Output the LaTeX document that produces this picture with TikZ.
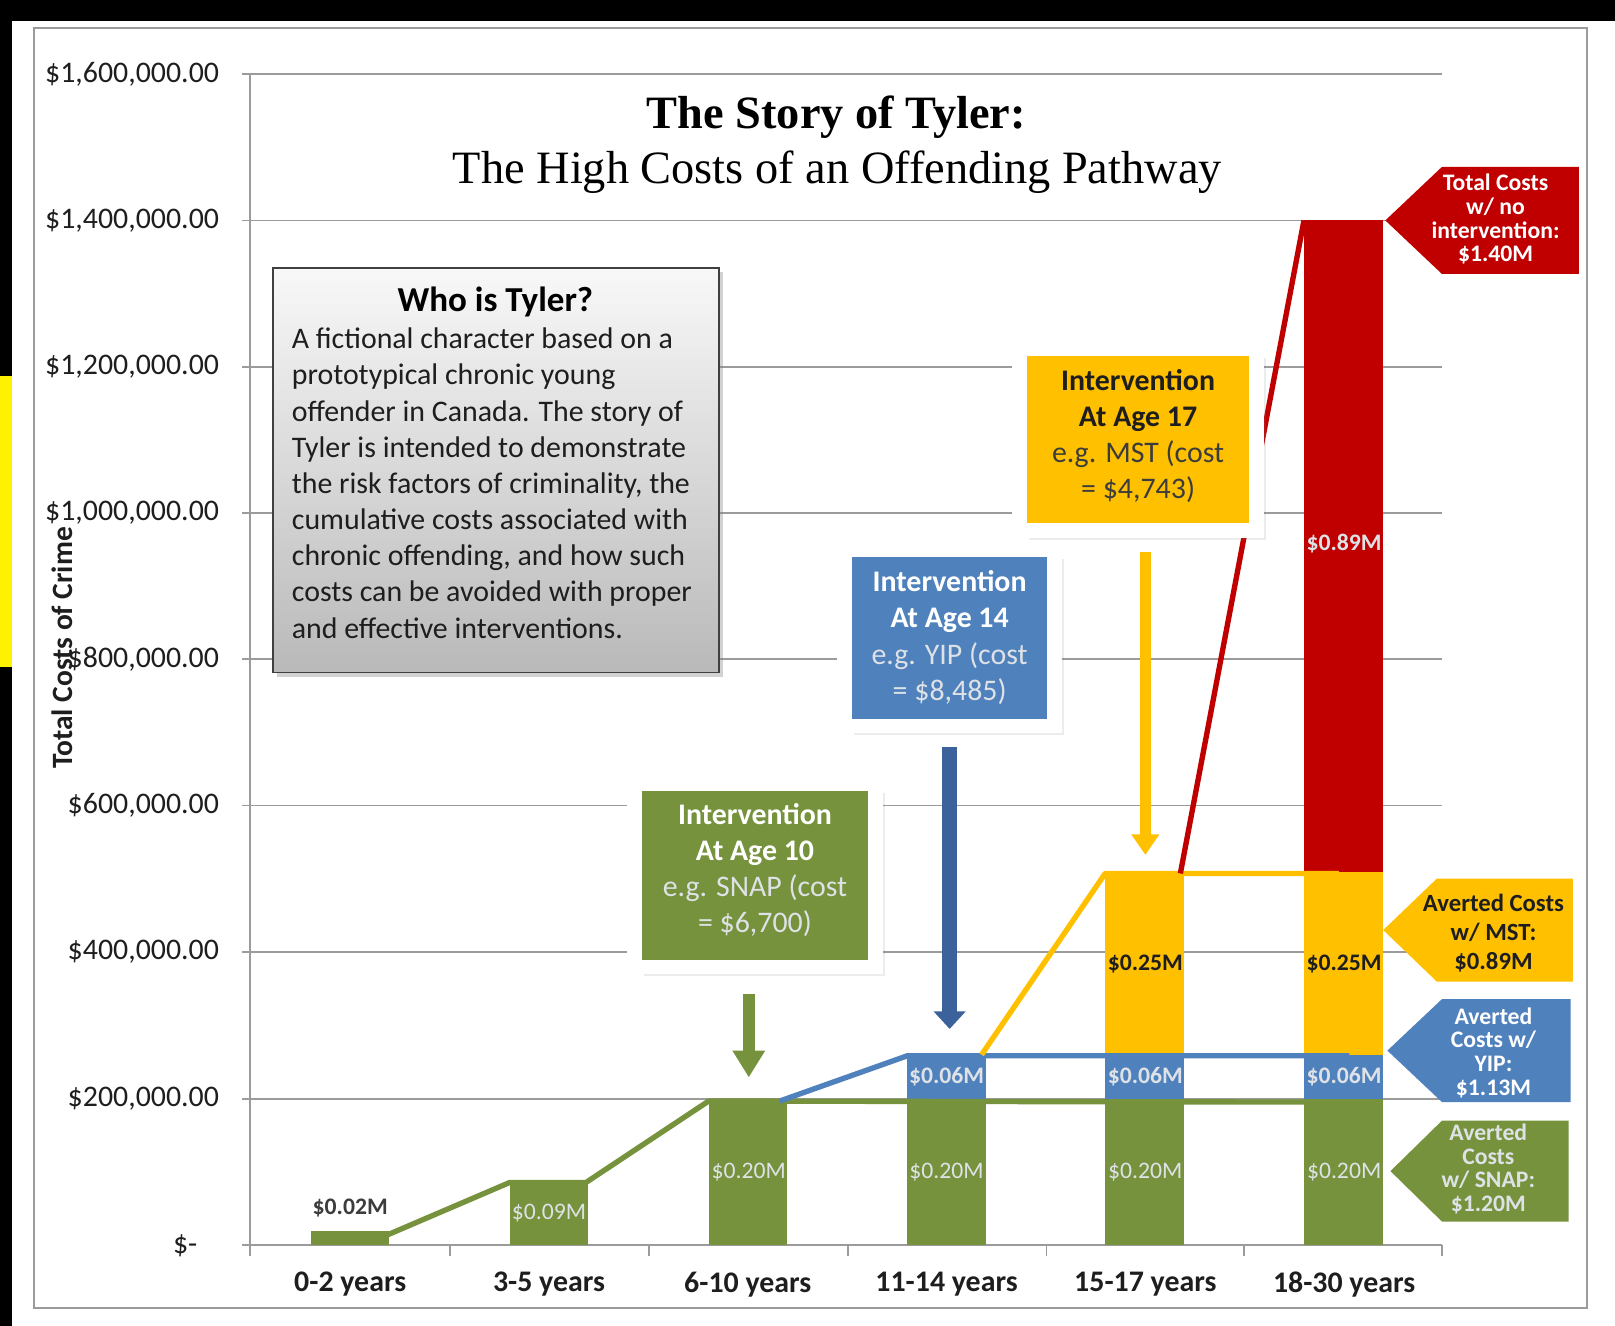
\documentclass[tikz,border=0pt]{standalone}
\usepackage{fontspec}
\setmainfont{Carlito}
\newfontfamily\titlefont{Liberation Serif}
\usetikzlibrary{shadows,arrows.meta}
\definecolor{cgreen}{RGB}{118,146,60}
\definecolor{cblue}{RGB}{79,129,189}
\definecolor{cdblue}{RGB}{60,98,156}
\definecolor{cyellow}{RGB}{255,192,0}
\definecolor{cred}{RGB}{192,0,0}
\definecolor{cgrid}{RGB}{155,155,155}
\definecolor{ctext}{RGB}{30,30,30}
\definecolor{cframe}{RGB}{64,64,64}
\definecolor{clight}{RGB}{222,226,230}
\definecolor{cdark}{RGB}{60,60,60}
\definecolor{boxtop}{RGB}{248,248,248}
\definecolor{boxbot}{RGB}{185,185,185}
\begin{document}
\begin{tikzpicture}[x=0.5pt,y=-0.5pt,
  every node/.style={inner sep=0pt},
  ticklab/.style={anchor=east,text=ctext,font=\fontsize{14.5}{16}\selectfont},
  catlab/.style={text=ctext,font=\bfseries\fontsize{14.5}{16}\selectfont},
  gridline/.style={draw=cgrid,line width=0.8pt},
  trend/.style={line width=2.6pt,line join=round},
  barlab/.style={font=\bfseries\fontsize{11.5}{13}\selectfont},
  barlabr/.style={font=\fontsize{11.5}{13}\selectfont},
  interv/.style={draw=white,line width=7pt,
     drop shadow={shadow xshift=4.5pt,shadow yshift=-4.5pt,opacity=0.15}},
  intervtext/.style={align=center,font=\fontsize{14.5}{17.5}\selectfont},
  callout/.style={align=center,font=\bfseries\fontsize{11.5}{11.5}\selectfont},
  calloutbig/.style={align=center,font=\bfseries\fontsize{12}{14.2}\selectfont}
]
\useasboundingbox (0,0) rectangle (1568,1287);
\fill[white] (0,0) rectangle (1568,1287);
% black page edges
\fill[black] (0,0) rectangle (1568,20);
\fill[black] (0,0) rectangle (12,1287);
\fill[yellow] (0,365) rectangle (12,648);
% outer chart border
\draw[draw=cgrid,line width=0.8pt] (33,27) rectangle (1541,1270);

% gridlines and y labels
\foreach \yy/\lab in {72/{\$1,600,000.00},214/{\$1,400,000.00},356/{\$1,200,000.00},498/{\$1,000,000.00},640/{\$800,000.00},782/{\$600,000.00},924/{\$400,000.00},1067/{\$200,000.00}}{
  \draw[gridline] (235,\yy) -- (1400,\yy);
  \node[ticklab] at (213,\yy) {\lab};
}
\draw[gridline] (235,1209) -- (1400,1209);
\node[ticklab] (zero) at (192,1209) {\$-};
\draw[gridline] (243,72) -- (243,1209);
\foreach \xx in {243,437,630,823,1016,1208,1400}{
  \draw[gridline] (\xx,1209) -- (\xx,1219);
}
% category labels
\node[catlab] (c1) at (340,1247) {0-2 years};
\node[catlab] (c2) at (533,1247) {3-5 years};
\node[catlab] (c3) at (726,1247) {6-10 years};
\node[catlab] (c4) at (919,1247) {11-14 years};
\node[catlab] (c5) at (1112,1247) {15-17 years};
\node[catlab] (c6) at (1305,1247) {18-30 years};

% y-axis title
\node[rotate=90,text=ctext,font=\bfseries\fontsize{14.3}{16}\selectfont] (ytitle) at (60,629) {Total Costs of Crime};

% bars
\fill[cgreen] (302,1195) rectangle (378,1209);
\fill[cgreen] (495,1147) rectangle (571,1209);
\fill[cgreen] (688,1067) rectangle (764,1209);
\fill[cgreen] (881,1067) rectangle (957,1209);
\fill[cblue]  (881,1024) rectangle (957,1067);
\fill[cgreen] (1073,1067) rectangle (1150,1209);
\fill[cblue]  (1073,1024) rectangle (1150,1067);
\fill[cyellow](1073,847) rectangle (1150,1024);
\fill[cgreen] (1266,1067) rectangle (1343,1209);
\fill[cblue]  (1266,1024) rectangle (1343,1067);
\fill[cyellow](1266,847) rectangle (1343,1024);
\fill[cred]   (1266,214) rectangle (1343,847);

% trend lines
\draw[trend,cgreen] (376,1199) -- (495,1148) -- (569,1148) -- (688,1069) -- (1300,1070);
\draw[trend,cblue] (757,1069) -- (881,1025) -- (1310,1025);
\draw[trend,cyellow] (953,1024) -- (1073,848) -- (1300,848);
\draw[trend,cred] (1146,848) -- (1266,214);

% bar labels
\node[barlab,text=cdark] (l1) at (340,1173) {\$0.02M};
\node[barlabr,text=clight] (l2) at (533,1178) {\$0.09M};
\foreach \cx in {727,919,1112,1305}{
  \node[barlabr,text=clight] at (\cx,1138) {\$0.20M};
}
\foreach \cx in {919,1112,1305}{
  \node[barlab,text=clight] at (\cx,1045) {\$0.06M};
}
\foreach \cx in {1112,1305}{
  \node[barlab,text=ctext] at (\cx,936) {\$0.25M};
}
\node[barlab,text=clight] (l89) at (1305,528) {\$0.89M};

% title
\node[font=\titlefont\bfseries\fontsize{22.5}{26}\selectfont] (title) at (812,114) {The Story of Tyler:};
\node[font=\titlefont\fontsize{22.5}{26}\selectfont] (subtitle) at (813,167) {The High Costs of an Offending Pathway};

% who is Tyler box
\node[draw=cframe,line width=0.8pt,top color=boxtop,bottom color=boxbot,
      minimum width=216.5pt,minimum height=196.5pt,
      drop shadow={shadow xshift=2pt,shadow yshift=-2pt,opacity=0.35}] (who) at (481.5,456.5) {};
\node[text=black,font=\bfseries\fontsize{17}{20}\selectfont] (whot) at (481,293) {Who is Tyler?};
\node[anchor=north west,align=left,text=ctext,font=\fontsize{14.5}{17.56}\selectfont] (whob) at (283,318)
 {A fictional character based on a\\
  prototypical chronic young\\
  offender in Canada. The story of\\
  Tyler is intended to demonstrate\\
  the risk factors of criminality, the\\
  cumulative costs associated with\\
  chronic offending, and how such\\
  costs can be avoided with proper\\
  and effective interventions.};

% intervention arrows
\coordinate (ga1) at (727,965);
\coordinate (ga2) at (727,1046);
\coordinate (ba1) at (922,725);
\coordinate (ba2) at (922,999);
\coordinate (ya1) at (1112,536);
\coordinate (ya2) at (1112,830);
\draw[cgreen,line width=6pt,-{Triangle[length=13pt,width=15pt]}] (ga1) -- (ga2);
\draw[cdblue,line width=7pt,-{Triangle[length=8.5pt,width=15pt]}] (ba1) -- (ba2);
\draw[cyellow,line width=5.5pt,-{Triangle[length=10pt,width=13pt]}] (ya1) -- (ya2);

% intervention boxes
\node[interv,fill=cgreen,minimum width=117pt,minimum height=89pt] (ig) at (733,850) {};
\node[intervtext,text=white] (igt) at (733,845)
 {\textbf{Intervention}\\\textbf{At Age 10}\\\textcolor{clight}{e.g. SNAP (cost}\\\textcolor{clight}{= \$6,700)}};
\node[interv,fill=cblue,minimum width=102pt,minimum height=85.5pt] (ib) at (922,619.5) {};
\node[intervtext,text=white] (ibt) at (922,619)
 {\textbf{Intervention}\\\textbf{At Age 14}\\\textcolor{clight}{e.g. YIP (cost}\\\textcolor{clight}{= \$8,485)}};
\node[interv,fill=cyellow,minimum width=115pt,minimum height=88pt] (iy) at (1105,427) {};
\node[intervtext,text=ctext] (iyt) at (1105,423)
 {\textbf{Intervention}\\\textbf{At Age 17}\\\textcolor{cdark}{e.g. MST (cost}\\\textcolor{cdark}{= \$4,743)}};

% right callouts
\fill[cred] (1345,214) -- (1400,162) -- (1533,162) -- (1533,266) -- (1400,266) -- cycle;
\node[callout,text=white] (ct) at (1452,213) {Total Costs\\w/ no\\intervention:\\\$1.40M};
\fill[cyellow] (1343,903) -- (1395,853) -- (1527,853) -- (1527,953) -- (1395,953) -- cycle;
\node[calloutbig,text=ctext] (cy) at (1450,906) {Averted Costs\\w/ MST:\\\$0.89M};
\fill[cblue] (1347,1020) -- (1400,970) -- (1525,970) -- (1525,1070) -- (1400,1070) -- cycle;
\node[callout,text=white] (cb) at (1450,1022) {Averted\\Costs w/\\YIP:\\\$1.13M};
\fill[cgreen] (1350,1137) -- (1400,1088) -- (1523,1088) -- (1523,1186) -- (1400,1186) -- cycle;
\node[callout,text=clight] (cg) at (1445,1135) {Averted\\Costs\\w/ SNAP:\\\$1.20M};
\end{tikzpicture}
\end{document}
